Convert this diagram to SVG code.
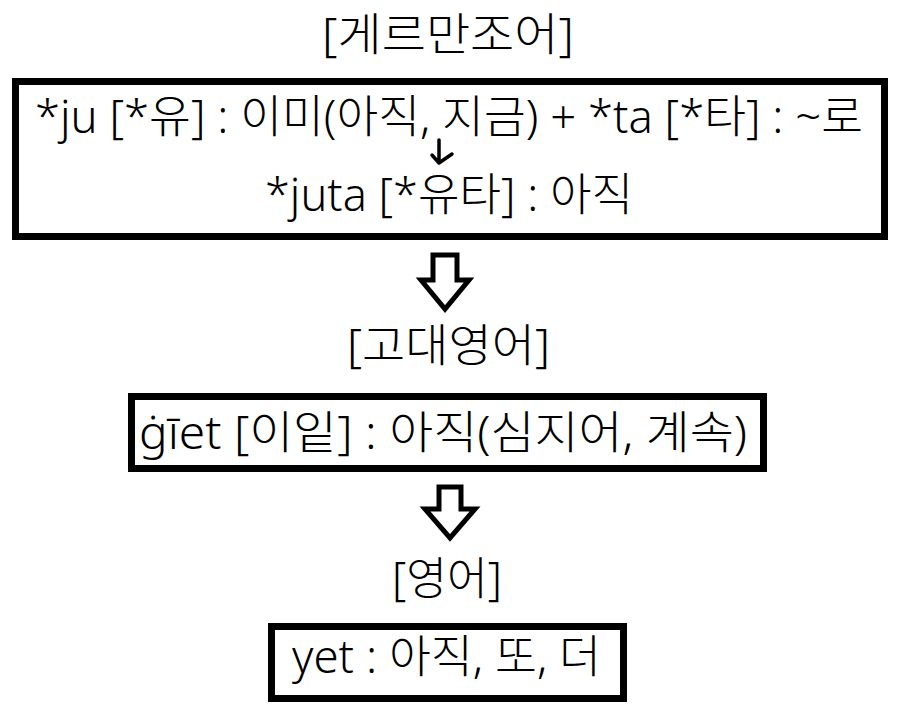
<svg xmlns="http://www.w3.org/2000/svg" width="914" height="714" viewBox="0 0 914 714">
<style>
text{font-family:"Noto Sans","Noto Sans CJK KR",sans-serif;fill:#000;font-weight:300;}
.t{font-size:38px;text-anchor:start;}
.box{fill:#fff;stroke:#000;stroke-width:7;}
.barrow{fill:#fff;stroke:#000;stroke-width:5;stroke-linejoin:miter;}
</style>
<rect width="914" height="714" fill="#fff"/>
<g id="title-germanic"><text class="t" transform="translate(322,51) scale(1,1.2)" textLength="252" lengthAdjust="spacingAndGlyphs">[게르만조어]</text></g>
<g id="node-germanic">
<rect class="box" x="15.5" y="81.5" width="869" height="155"/>
<text class="t" transform="translate(35,133) scale(1,1.2)" textLength="828" lengthAdjust="spacingAndGlyphs">*ju [*유] : 이미(아직, 지금) + *ta [*타] : ~로</text>
<text class="t" transform="translate(265,211) scale(1,1.2)" textLength="368" lengthAdjust="spacingAndGlyphs">*juta [*유타] : 아직</text>
</g>
<g id="title-oldenglish"><text class="t" transform="translate(347,362) scale(1,1.2)" textLength="203" lengthAdjust="spacingAndGlyphs">[고대영어]</text></g>
<g id="node-oldenglish">
<rect class="box" x="131.5" y="396.5" width="632" height="72"/>
<text class="t" transform="translate(139,449) scale(1,1.2)" textLength="608" lengthAdjust="spacingAndGlyphs">ġīet [이잍] : 아직(심지어, 계속)</text>
</g>
<g id="title-english"><text class="t" transform="translate(392,595) scale(1,1.2)" textLength="110" lengthAdjust="spacingAndGlyphs">[영어]</text></g>
<g id="node-english">
<rect class="box" x="271.5" y="626.5" width="352" height="72"/>
<text class="t" transform="translate(292,673) scale(1,1.2)" textLength="309" lengthAdjust="spacingAndGlyphs">yet : 아직, 또, 더</text>
</g>
<g id="connectors">
<path d="M439,140 L439,163 M432,155 L439,163 L452,154" fill="none" stroke="#000" stroke-width="3.5" stroke-linecap="round" stroke-linejoin="round"/>
<polygon class="barrow" points="433,255 457,255 457,280 469,280 445,309 421,280 433,280"/>
<polygon class="barrow" points="439,487 461,487 461,509 475,509 450,538 425,509 439,509"/>
</g>
</svg>
